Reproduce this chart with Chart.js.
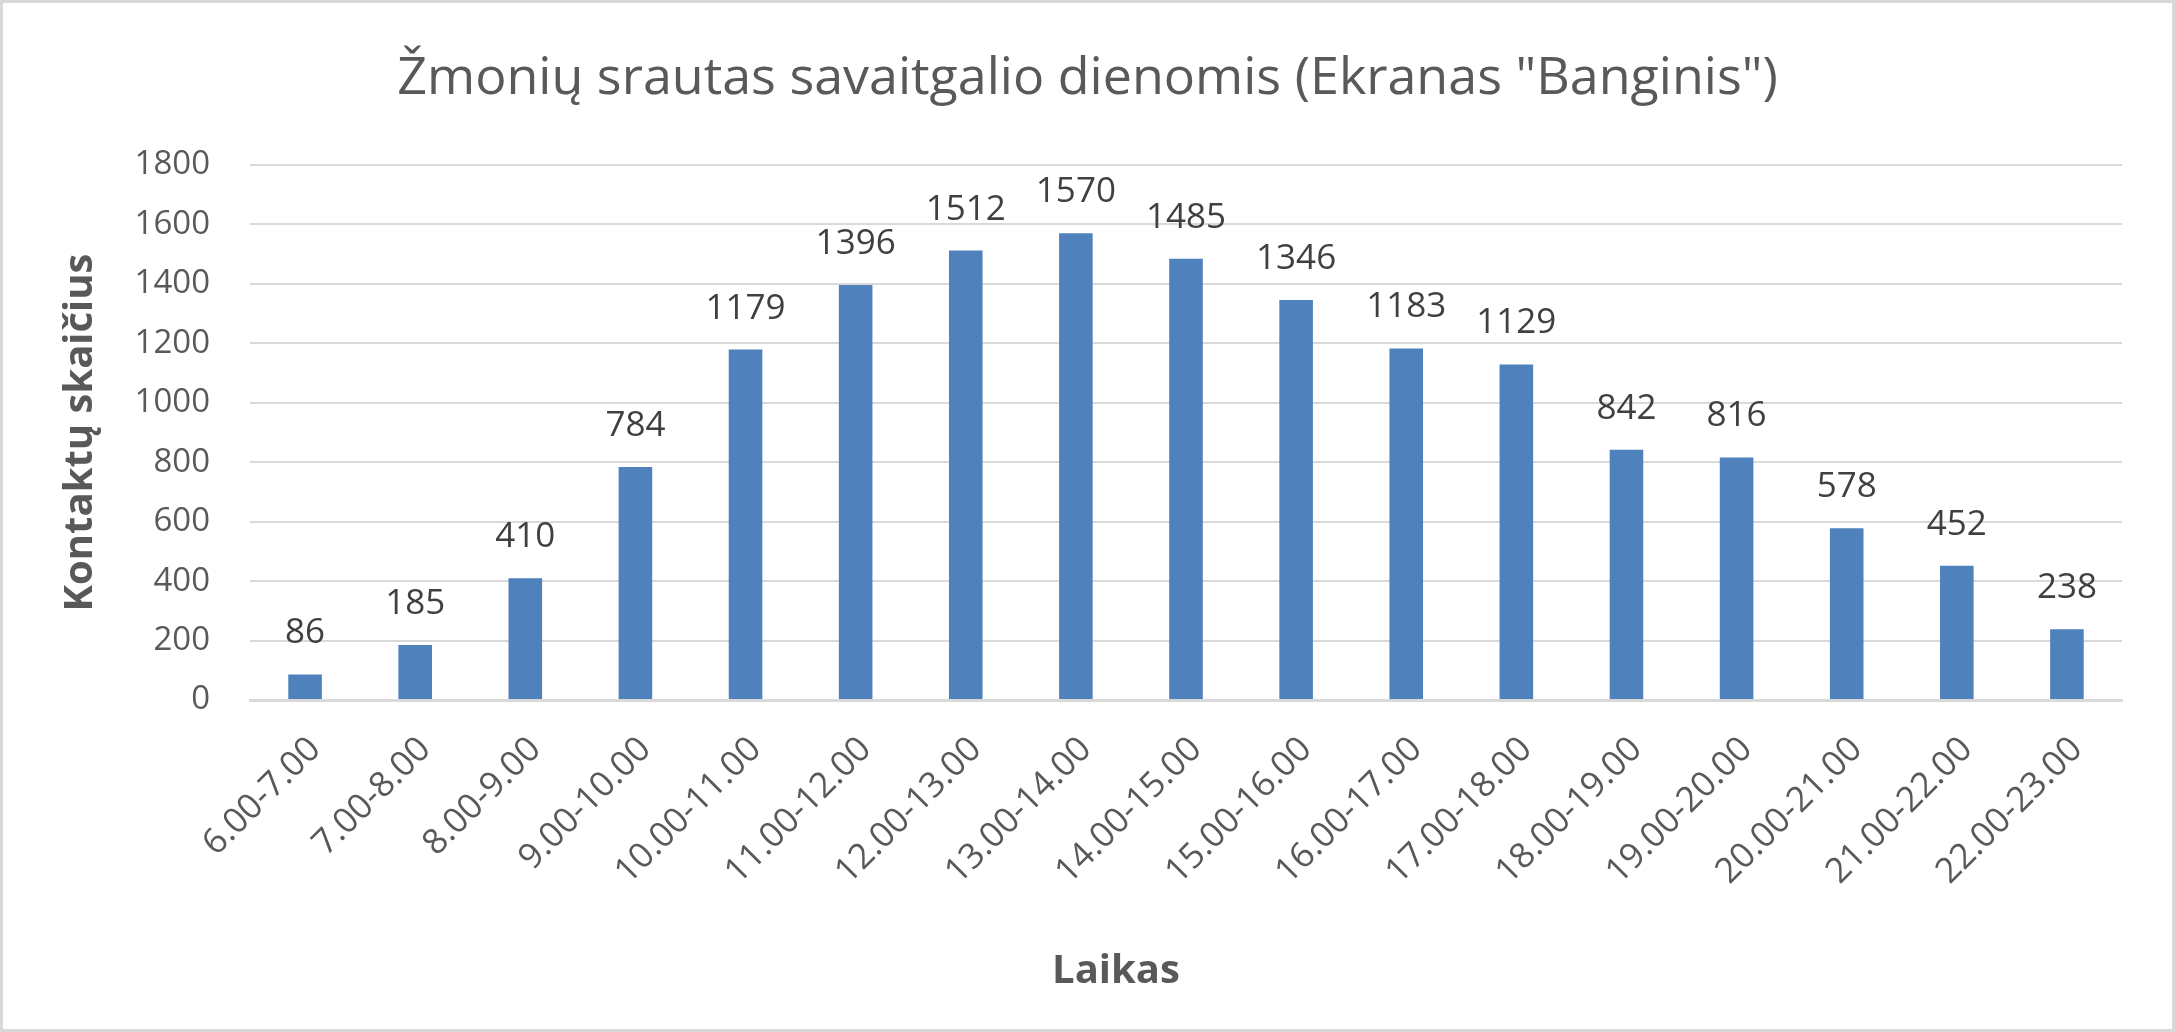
<!DOCTYPE html>
<html>
<head>
<meta charset="utf-8">
<script src="https://cdn.jsdelivr.net/npm/chart.js@4.4.1/dist/chart.umd.min.js"></script>
<style>
  html, body { margin: 0; padding: 0; background: #ffffff; }
  #c { display: block; }
</style>
</head>
<body>
<canvas id="c" width="2175" height="1032"></canvas>
<script>
const chartTitle = 'Žmonių srautas savaitgalio dienomis (Ekranas "Banginis")';
const xAxisTitle = 'Laikas';
const yAxisTitle = 'Kontaktų skaičius';
const categories = ['6.00-7.00', '7.00-8.00', '8.00-9.00', '9.00-10.00', '10.00-11.00', '11.00-12.00',
  '12.00-13.00', '13.00-14.00', '14.00-15.00', '15.00-16.00', '16.00-17.00', '17.00-18.00',
  '18.00-19.00', '19.00-20.00', '20.00-21.00', '21.00-22.00', '22.00-23.00'];
const contacts = [86, 185, 410, 784, 1179, 1396, 1512, 1570, 1485, 1346, 1183, 1129, 842, 816, 578, 452, 238];
const yMin = 0;
const yMax = 1800;
const yStep = 200;

const FONT = '"Open Sans", "Noto Sans", sans-serif';

const bgPlugin = {
  id: 'bg',
  beforeDraw(chart) {
    const ctx = chart.ctx;
    ctx.save();
    ctx.fillStyle = '#ffffff';
    ctx.fillRect(0, 0, chart.width, chart.height);
    ctx.restore();
  },
  afterDraw(chart) {
    const ctx = chart.ctx;
    ctx.save();
    // x-axis title (placed where the original chart has it)
    ctx.fillStyle = '#595959';
    ctx.font = 'bold 40px ' + FONT;
    ctx.textAlign = 'center';
    ctx.textBaseline = 'alphabetic';
    ctx.fillText(xAxisTitle, 1116, 983);
    // outer frame
    ctx.strokeStyle = '#d9d9d9';
    ctx.lineWidth = 3;
    ctx.strokeRect(1.5, 1.5, chart.width - 3, chart.height - 3);
    ctx.restore();
  }
};

const valueLabels = {
  id: 'valueLabels',
  afterDatasetsDraw(chart) {
    const ctx = chart.ctx;
    const meta = chart.getDatasetMeta(0);
    const data = chart.data.datasets[0].data;
    ctx.save();
    ctx.fillStyle = '#404040';
    ctx.font = '35px ' + FONT;
    ctx.textAlign = 'center';
    ctx.textBaseline = 'alphabetic';
    meta.data.forEach((bar, i) => {
      ctx.fillText(String(data[i]), bar.x, bar.y - 31);
    });
    ctx.restore();
  }
};

new Chart(document.getElementById('c'), {
  type: 'bar',
  data: {
    labels: categories,
    datasets: [{
      data: contacts,
      backgroundColor: '#4f81bd',
      borderWidth: 0,
      categoryPercentage: 1.0,
      barPercentage: 0.305
    }]
  },
  options: {
    responsive: false,
    animation: false,
    devicePixelRatio: 1,
    layout: { padding: { left: 0, right: 0, top: 0, bottom: 0 } },
    plugins: {
      legend: { display: false },
      tooltip: { enabled: false },
      title: {
        display: true,
        text: chartTitle,
        color: '#595959',
        font: { family: FONT, size: 52, weight: 'normal', lineHeight: 1.2 },
        padding: { top: 47.8, bottom: 54.8 }
      }
    },
    scales: {
      x: {
        grid: { display: false, drawTicks: false },
        border: { display: true, color: '#d9d9d9', width: 3 },
        ticks: {
          color: '#595959',
          font: { family: FONT, size: 35 },
          minRotation: 45,
          maxRotation: 45,
          autoSkip: false,
          padding: 29,
          labelOffset: 10
        },
        title: { display: false },
        afterFit(scale) { scale.height = 332; }
      },
      y: {
        min: yMin,
        max: yMax,
        grid: { color: '#d9d9d9', lineWidth: 2, drawTicks: false },
        border: { display: false },
        ticks: {
          stepSize: yStep,
          color: '#595959',
          font: { family: FONT, size: 33 },
          padding: 40,
          callback: (v) => String(v)
        },
        title: {
          display: true,
          text: yAxisTitle,
          color: '#595959',
          font: { family: FONT, size: 40, weight: 'bold', lineHeight: 1.2 },
          padding: { top: 57, bottom: 0 }
        },
        afterFit(scale) { scale.width = 250; }
      },
      yRight: {
        type: 'linear',
        position: 'right',
        display: true,
        min: yMin,
        max: yMax,
        grid: { display: false, drawTicks: false },
        border: { display: false },
        ticks: { display: false },
        afterFit(scale) { scale.width = 53; }
      }
    }
  },
  plugins: [bgPlugin, valueLabels]
});
</script>
</body>
</html>
